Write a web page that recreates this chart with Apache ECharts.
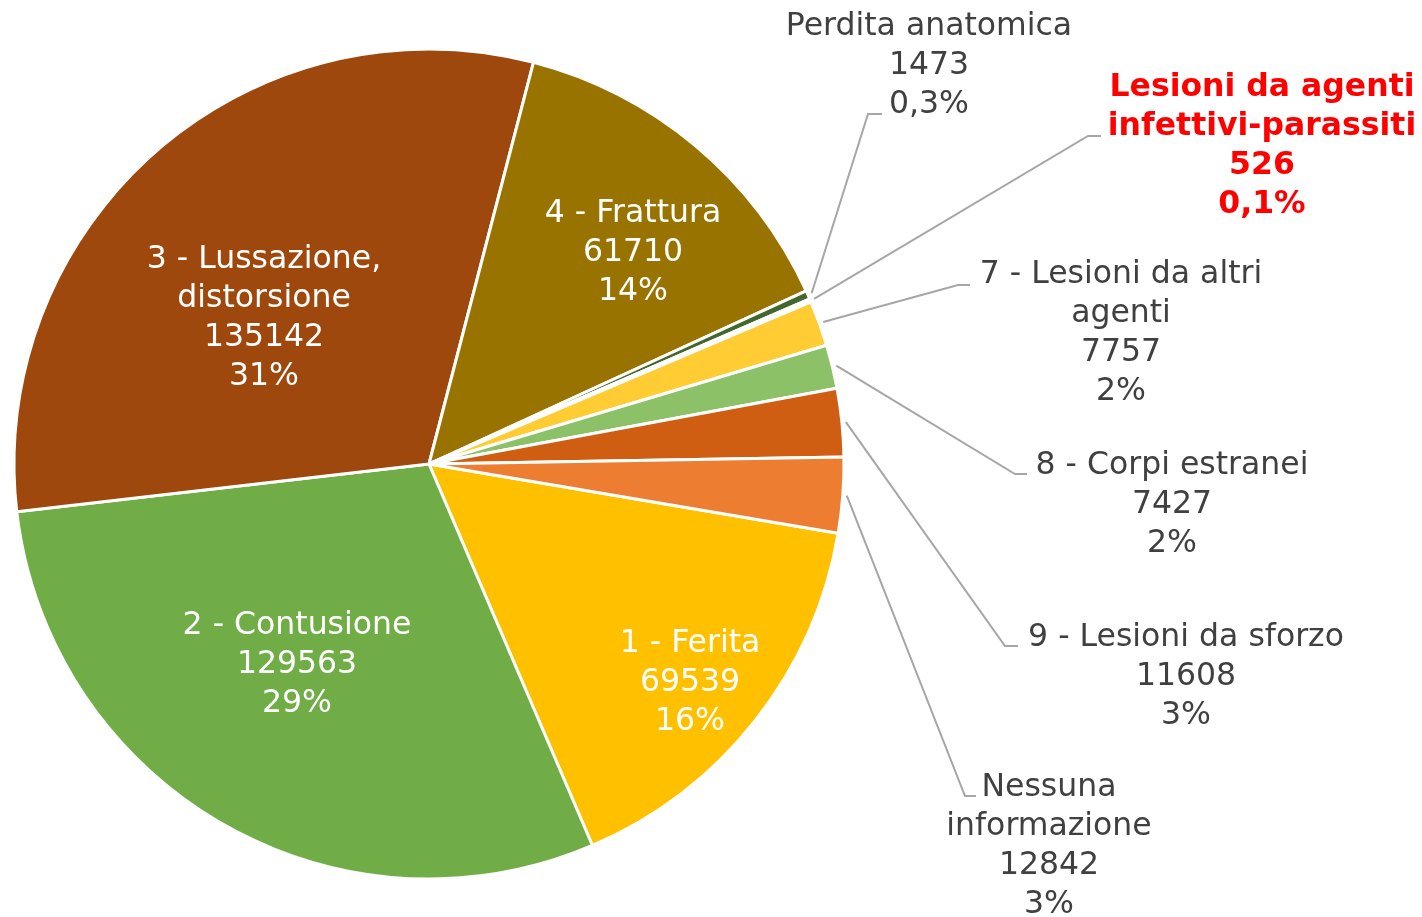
<!DOCTYPE html>
<html>
<head>
<meta charset="utf-8">
<script src="https://cdn.jsdelivr.net/npm/echarts@6/dist/echarts.min.js"></script>
<style>
html,body{margin:0;padding:0;background:#fff;}
#chart{width:1422px;height:917px;}
</style>
</head>
<body>
<div id="chart"></div>
<script>
// ---- data ----
const categories = [
  '1 - Ferita',
  '2 - Contusione',
  '3 - Lussazione,\ndistorsione',
  '4 - Frattura',
  'Perdita anatomica',
  'Lesioni da agenti\ninfettivi-parassiti',
  '7 - Lesioni da altri\nagenti',
  '8 - Corpi estranei',
  '9 - Lesioni da sforzo',
  'Nessuna\ninformazione'
];
const values = [69539, 129563, 135142, 61710, 1473, 526, 7757, 7427, 11608, 12842];
const pctLabels = ['16%', '29%', '31%', '14%', '0,3%', '0,1%', '2%', '2%', '3%', '3%'];

// ---- styles / layout (not data) ----
const colors = ['#FFC000', '#70AD47', '#9E480E', '#997300', '#43682B', '#FFFFFF', '#FFCD33', '#8CC168', '#D05E12', '#ED7D31'];
const inside = [true, true, true, true, false, false, false, false, false, false];
const highlight = [false, false, false, false, false, true, false, false, false, false];
const CENTER = [429, 464];
const RADIUS = 415;
// label block centres [x, y]
const labelCenters = [
  [690, 683], [297, 665], [264, 318.5], [633, 253],
  [929, 66], [1262, 146.5], [1121, 333.5], [1172, 505], [1186, 677], [1049, 846.5]
];
// leader elbow: [elbowX, endX, y]
const leaders = [
  null, null, null, null,
  [868, 882, 114], [1088, 1101, 136], [958, 970, 285], [1015, 1027, 474], [1005, 1018, 646], [965, 976, 796]
];

const data = categories.map((name, i) => ({
  name: name,
  value: values[i],
  itemStyle: { color: colors[i] },
  label: {
    color: inside[i] ? '#FFFFFF' : (highlight[i] ? '#FF0000' : '#404040'),
    fontWeight: highlight[i] ? 'bold' : 'normal',
    position: inside[i] ? 'inside' : 'outside'
  },
  labelLine: { show: !inside[i] }
}));

const chart = echarts.init(document.getElementById('chart'), null, { renderer: 'canvas' });
chart.setOption({
  backgroundColor: '#FFFFFF',
  animation: false,
  series: [{
    type: 'pie',
    center: CENTER,
    radius: RADIUS,
    startAngle: 350.4,
    clockwise: true,
    avoidLabelOverlap: false,
    minAngle: 0,
    data: data,
    itemStyle: { borderColor: '#FFFFFF', borderWidth: 3 },
    label: {
      fontFamily: 'DejaVu Sans',
      fontSize: 31.5,
      lineHeight: 39,
      align: 'center',
      formatter: function (p) { return p.name + '\n' + p.value + '\n' + pctLabels[p.dataIndex]; }
    },
    labelLine: {
      show: true,
      length: 20,
      length2: 10,
      lineStyle: { color: '#A6A6A6', width: 2 }
    },
    labelLayout: function (params) {
      const i = params.dataIndex;
      const c = labelCenters[i];
      const res = { x: c[0], y: c[1], align: 'center', verticalAlign: 'middle' };
      const L = leaders[i];
      if (L && params.labelLinePoints) {
        const p0 = params.labelLinePoints[0];
        const dx = p0[0] - CENTER[0], dy = p0[1] - CENTER[1];
        const d = Math.sqrt(dx * dx + dy * dy) || 1;
        const s = (d + 4) / d;
        res.labelLinePoints = [
          [CENTER[0] + dx * s, CENTER[1] + dy * s],
          [L[0], L[2]],
          [L[1], L[2]]
        ];
      }
      return res;
    }
  }]
});
</script>
</body>
</html>
